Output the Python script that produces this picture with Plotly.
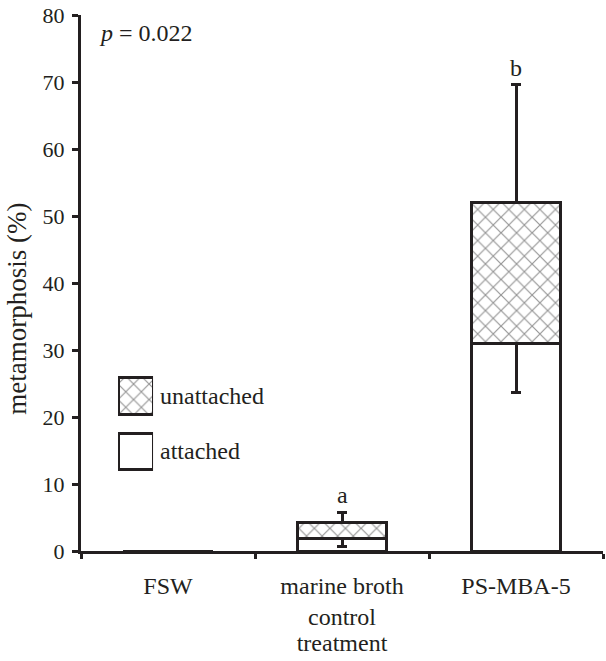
import plotly.graph_objects as go

categories = ["FSW", "marine broth<br>control", "PS-MBA-5"]
attached = [0, 1.9, 30.9]
attached_err_minus = [0, 1.3, 7.3]
unattached = [0, 2.3, 21.1]
unattached_err_plus = [0, 1.6, 17.6]
letters = ["", "a", "b"]
legend_labels = ["attached", "unattached"]
legend_values = [1, 1]

FONT = "Liberation Serif, Times New Roman, serif"
INK = "#231f20"
PATTERN = dict(shape="x", size=11, solidity=0.2, fgcolor="#2a2a2a", bgcolor="white",
               fillmode="overlay")

fig = go.Figure()

fig.add_trace(go.Bar(
    x=categories, y=attached, width=0.515,
    marker=dict(color="white", line=dict(color=INK, width=3)),
    error_y=dict(type="data", symmetric=False, array=[0, 0, 0],
                 arrayminus=attached_err_minus, color=INK, thickness=3, width=5),
    showlegend=False,
))
fig.add_trace(go.Bar(
    x=categories, y=unattached, width=0.515,
    marker=dict(color="white", line=dict(color=INK, width=3), pattern=PATTERN),
    error_y=dict(type="data", symmetric=False, array=unattached_err_plus,
                 arrayminus=[0, 0, 0], color=INK, thickness=3, width=5),
    showlegend=False,
))

# legend keys drawn as bars in a small auxiliary axis
fig.add_trace(go.Bar(
    y=[legend_labels[0]], x=[legend_values[0]], orientation="h", width=0.66,
    xaxis="x2", yaxis="y2",
    marker=dict(color="white", line=dict(color=INK, width=3)),
    showlegend=False, hoverinfo="skip",
))
fig.add_trace(go.Bar(
    y=[legend_labels[1]], x=[legend_values[1]], orientation="h", width=0.66,
    xaxis="x2", yaxis="y2",
    marker=dict(color="white", line=dict(color=INK, width=3), pattern=PATTERN),
    showlegend=False, hoverinfo="skip",
))

totals = [a + u + e for a, u, e in zip(attached, unattached, unattached_err_plus)]
for c, t, l in zip(categories, totals, letters):
    if l:
        fig.add_annotation(x=c, y=t, text=l, showarrow=False, yanchor="bottom",
                           yshift=2, font=dict(family=FONT, size=24, color=INK))

# legend texts
fig.add_annotation(xref="x2", yref="y2", x=1, y=legend_labels[1], text="unattached",
                   xanchor="left", xshift=5, showarrow=False,
                   font=dict(family=FONT, size=24, color=INK))
fig.add_annotation(xref="x2", yref="y2", x=1, y=legend_labels[0], text="attached",
                   xanchor="left", xshift=5, showarrow=False,
                   font=dict(family=FONT, size=24, color=INK))

fig.add_annotation(xref="paper", yref="paper", x=0.03, y=0.995, text="<i>p</i> = 0.022",
                   xanchor="left", yanchor="top", showarrow=False,
                   font=dict(family=FONT, size=24, color=INK))

# y-axis title
fig.add_annotation(xref="paper", yref="paper", x=0, xshift=-64, y=0.452,
                   text="metamorphosis (%)", textangle=-90, showarrow=False,
                   xanchor="center", yanchor="middle",
                   font=dict(family=FONT, size=27, color=INK))

fig.update_layout(
    width=606, height=661,
    margin=dict(l=81, r=3, t=13, b=110),
    paper_bgcolor="white", plot_bgcolor="white",
    barmode="stack",
    font=dict(family=FONT, size=24, color=INK),
    xaxis=dict(
        type="category", range=[-0.5, 2.5],
        showline=True, linewidth=3, linecolor=INK,
        ticks="outside", tickson="boundaries", ticklen=5, tickwidth=3, tickcolor=INK,
        tickfont=dict(family=FONT, size=24, color=INK),
        ticklabelstandoff=11,
        title=dict(text="treatment", font=dict(family=FONT, size=24, color=INK), standoff=6),
        showgrid=False, zeroline=False,
    ),
    yaxis=dict(
        range=[0, 80], dtick=10,
        showline=True, linewidth=3, linecolor=INK,
        ticks="outside", ticklen=6, tickwidth=3, tickcolor=INK,
        tickfont=dict(family=FONT, size=22, color=INK),
        ticklabelstandoff=3,
        showgrid=False, zeroline=False,
    ),
    xaxis2=dict(domain=[0.0709, 0.138], range=[0, 1], anchor="y2",
                visible=False, fixedrange=True),
    yaxis2=dict(domain=[0.1343, 0.3406], type="category", range=[-0.5, 1.5],
                categoryorder="array", categoryarray=legend_labels,
                anchor="x2", visible=False, fixedrange=True),
)

fig.write_html("out.html", config={"displayModeBar": False},
               post_script="document.body.style.margin='0';")
